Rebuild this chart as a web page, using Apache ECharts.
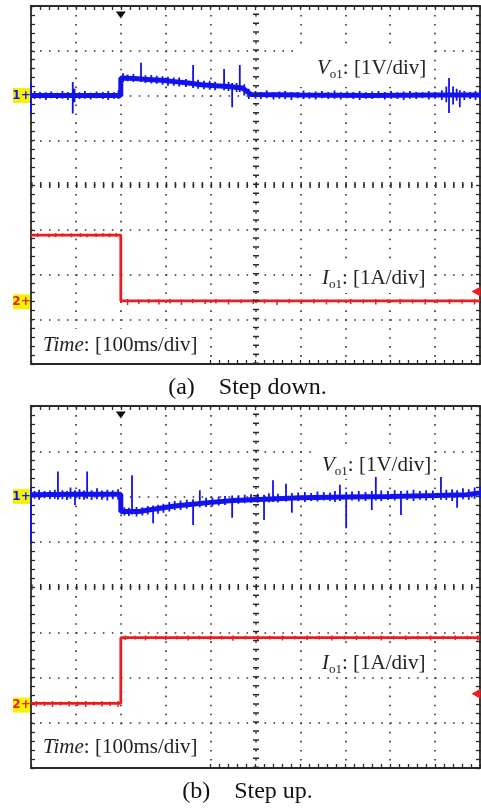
<!DOCTYPE html>
<html><head><meta charset="utf-8">
<script src="https://cdn.jsdelivr.net/npm/echarts@6/dist/echarts.min.js"></script>
<style>html,body{margin:0;padding:0;background:#fff;}#c{width:481px;height:808px;}</style>
</head><body><div id="c"></div>
<script>
// ---------- DATA (time in ms, amplitude in divisions) ----------
const timeMin = 0, timeMax = 1000, timeDiv = 100;      // 100 ms/div, 10 div
const ampMin = -4, ampMax = 4, ampDiv = 1;             // 8 vertical div
const triggerTime = 200;
const ch1Offset = [2.0, 2.0];          // channel-1 ground marker (a),(b)
const ch2Offset = [-2.61, -2.61];      // channel-2 ground marker (a),(b)
const trigLevel = [-2.38, -2.36];      // trigger level arrow (a),(b)

// Panel (a) step down : Vo1 base line
const aVoT = [0, 200, 200, 230, 260, 290, 320, 350, 380, 410, 440, 470, 480, 490, 600, 750, 900, 1000];
const aVoV = [2.0, 2.0, 2.39, 2.38, 2.36, 2.34, 2.31, 2.28, 2.24, 2.22, 2.20, 2.17, 2.10, 2.02, 2.01, 2.0, 2.01, 2.01];
// Vo1 noise spikes [time, low, high]
const aVoSpikes = [
[0,1.61,2.28],[8,1.92,2.10],[20,1.93,2.08],[33,1.90,2.07],[45,1.94,2.09],[58,1.92,2.06],[70,1.93,2.10],[82,1.90,2.08],
[93,1.60,2.30],[97,1.85,2.15],[108,1.92,2.07],[120,1.93,2.10],[133,1.91,2.06],[146,1.94,2.09],[160,1.92,2.08],[172,1.90,2.10],
[185,1.93,2.07],[195,1.92,2.12],[205,2.30,2.50],[215,2.32,2.47],[228,2.30,2.48],[245,2.30,2.73],[255,2.28,2.45],[268,2.27,2.46],
[280,2.26,2.44],[293,2.24,2.43],[305,2.22,2.42],[318,2.22,2.40],[330,2.20,2.40],[345,2.19,2.37],[361,2.17,2.68],[372,2.15,2.35],
[385,2.14,2.33],[398,2.13,2.33],[410,2.12,2.31],[430,2.12,2.59],[440,2.10,2.30],[448,1.74,2.28],[458,2.08,2.28],[465,2.08,2.68],
[475,2.00,2.25],[485,1.92,2.15],[500,1.93,2.10],[512,1.92,2.08],[525,1.94,2.12],[540,1.91,2.07],[553,1.93,2.09],[566,1.92,2.10],
[580,1.90,2.08],[594,1.94,2.08],[607,1.92,2.11],[620,1.93,2.07],[634,1.91,2.09],[648,1.94,2.10],[662,1.92,2.08],[676,1.93,2.11],
[690,1.91,2.07],[704,1.94,2.09],[718,1.92,2.08],[732,1.90,2.10],[746,1.93,2.07],[760,1.92,2.09],[774,1.94,2.10],[788,1.91,2.08],
[802,1.93,2.10],[816,1.92,2.07],[830,1.90,2.09],[844,1.93,2.10],[858,1.92,2.08],[872,1.94,2.07],[886,1.91,2.10],[900,1.93,2.08],
[915,1.90,2.12],[925,1.85,2.20],[931,1.61,2.39],[940,1.80,2.20],[948,1.88,2.15],[955,1.74,2.12],[965,1.90,2.10],[978,1.92,2.08],
[990,1.90,2.10],[1000,1.93,2.12]];
// Io1 base line and noise
const aIoT = [0, 200, 200, 1000];
const aIoV = [-1.12, -1.12, -2.59, -2.59];
const aIoSpikes = [
[15,-1.16,-1.08],[40,-1.17,-1.09],[55,-1.16,-1.07],[70,-1.15,-1.08],[90,-1.17,-1.08],[110,-1.16,-1.07],[125,-1.17,-1.09],
[145,-1.16,-1.08],[160,-1.15,-1.07],[175,-1.17,-1.08],[190,-1.16,-1.07],
[215,-2.68,-2.55],[240,-2.66,-2.56],[262,-2.64,-2.55],[285,-2.67,-2.56],[310,-2.65,-2.55],[335,-2.68,-2.56],[360,-2.64,-2.55],
[388,-2.66,-2.56],[412,-2.65,-2.55],[440,-2.67,-2.56],[468,-2.64,-2.56],[495,-2.66,-2.55],[520,-2.65,-2.56],[548,-2.68,-2.56],
[575,-2.64,-2.55],[602,-2.66,-2.56],[630,-2.65,-2.55],[658,-2.67,-2.56],[685,-2.64,-2.56],[712,-2.66,-2.55],[740,-2.65,-2.56],
[768,-2.67,-2.55],[795,-2.64,-2.56],[822,-2.66,-2.55],[850,-2.65,-2.56],[878,-2.67,-2.55],[905,-2.64,-2.56],[932,-2.66,-2.55],
[960,-2.65,-2.56],[988,-2.67,-2.55]];

// Panel (b) step up : Vo1
const bVoT = [0, 100, 200, 200, 240, 280, 320, 360, 400, 450, 520, 600, 700, 800, 900, 970, 1000];
const bVoV = [2.04, 2.05, 2.05, 1.67, 1.67, 1.73, 1.79, 1.83, 1.87, 1.91, 1.94, 1.97, 1.99, 2.0, 2.02, 2.04, 2.08];
const bVoSpikes = [
[0,1.00,2.19],[8,1.95,2.12],[18,1.93,2.15],[30,1.96,2.12],[42,1.94,2.13],[53,1.95,2.15],[60,1.93,2.55],[70,1.94,2.14],
[80,1.92,2.12],[88,1.95,2.20],[98,1.81,2.14],[108,1.94,2.16],[118,1.93,2.13],[125,1.95,2.55],[135,1.92,2.14],[147,1.94,2.18],
[158,1.93,2.13],[170,1.91,2.15],[182,1.94,2.14],[194,1.93,2.16],[208,1.58,1.76],[218,1.57,1.75],[225,1.60,2.47],[235,1.56,1.77],
[248,1.58,1.76],[260,1.60,1.79],[272,1.41,1.80],[283,1.62,1.82],[295,1.64,1.84],[308,1.67,1.88],[320,1.70,1.90],[333,1.70,1.91],
[347,1.73,1.93],[361,1.37,1.94],[376,1.76,2.14],[390,1.77,1.97],[404,1.78,1.98],[418,1.80,2.00],[432,1.81,2.01],[448,1.53,2.02],
[462,1.84,2.03],[476,1.85,2.04],[490,1.86,2.05],[505,1.86,2.06],[519,1.48,2.04],[530,1.87,2.07],[539,1.88,2.36],[550,1.87,2.06],
[568,1.89,2.28],[581,1.64,2.08],[595,1.90,2.09],[610,1.88,2.10],[624,1.90,2.08],[638,1.89,2.11],[652,1.91,2.10],[666,1.90,2.09],
[677,1.88,2.12],[688,1.90,2.26],[702,1.30,2.10],[715,1.91,2.11],[730,1.89,2.12],[745,1.90,2.10],[759,1.70,2.12],[768,1.91,2.43],
[780,1.90,2.13],[795,1.92,2.12],[810,1.91,2.14],[824,1.59,2.12],[838,1.92,2.13],[852,1.90,2.15],[866,1.93,2.12],[880,1.91,2.14],
[895,1.92,2.13],[913,1.93,2.43],[925,1.92,2.15],[938,1.90,2.16],[949,1.75,2.14],[962,1.94,2.18],[975,1.93,2.16],[988,1.95,2.20],
[1000,1.96,2.22]];
const bIoT = [0, 200, 200, 1000];
const bIoV = [-2.57, -2.57, -1.12, -1.12];
const bIoSpikes = [
[12,-2.64,-2.52],[30,-2.63,-2.53],[48,-2.65,-2.52],[66,-2.62,-2.53],[85,-2.64,-2.52],[104,-2.63,-2.53],[122,-2.65,-2.52],
[140,-2.62,-2.53],[158,-2.64,-2.52],[176,-2.63,-2.53],[194,-2.65,-2.52],
[210,-1.17,-1.07],[232,-1.16,-1.08],[255,-1.18,-1.07],[278,-1.16,-1.08],[300,-1.17,-1.07],[325,-1.16,-1.08],[350,-1.18,-1.07],
[375,-1.16,-1.08],[400,-1.17,-1.07],[425,-1.16,-1.08],[450,-1.19,-1.07],[478,-1.16,-1.08],[505,-1.17,-1.07],[532,-1.16,-1.08],
[560,-1.18,-1.07],[588,-1.16,-1.08],[615,-1.17,-1.07],[642,-1.16,-1.08],[670,-1.18,-1.07],[698,-1.16,-1.08],[725,-1.17,-1.07],
[752,-1.16,-1.08],[780,-1.18,-1.07],[808,-1.16,-1.08],[835,-1.17,-1.07],[862,-1.16,-1.08],[890,-1.18,-1.07],[918,-1.16,-1.08],
[945,-1.17,-1.07],[972,-1.16,-1.08],[995,-1.18,-1.07]];

// Texts
const captions = ['(a)    Step down.', '(b)    Step up.'];
const voltLabel = ['V', 'o1', ': [1V/div]'];
const currLabel = ['I', 'o1', ': [1A/div]'];
const timeLabel = ['Time', ': [100ms/div]'];

// ---------- STYLE / LAYOUT ----------
const BLUE = '#1212f0', RED = '#ee1c1c', FRAME = '#2a2a22', DOT = '#333', TXT = '#222';
const SERIF = "'Liberation Serif','Times New Roman',serif";
const grids = [
  {left: 31, top: 6, width: 449, height: 358},
  {left: 31, top: 406, width: 449, height: 362}
];

function pairs(t, v) { return t.map((x, i) => [x, v[i]]); }
function spikes(arr) { const out = []; arr.forEach(s => { out.push([s[0], s[1]], [s[0], s[2]], [s[0], '-']); }); return out; }

function xAx(gi, pos) {
  const g = grids[gi];
  const per = g.height / ((ampMax - ampMin) * 5);
  return {type: 'value', gridIndex: gi, position: pos, min: timeMin, max: timeMax, interval: timeDiv,
    axisLine: {show: true, onZero: false, lineStyle: {color: FRAME, width: 1.8}},
    axisTick: {show: true, inside: true, length: 4, lineStyle: {color: FRAME, width: 1.3}},
    minorTick: {show: true, splitNumber: 5, length: 4, lineStyle: {color: FRAME, width: 1.3}},
    axisLabel: {show: false},
    splitLine: {show: pos === 'bottom', lineStyle: {color: DOT, width: 1.6, type: [1.6, per - 1.6]}},
    minorSplitLine: {show: false}};
}
function yAx(gi, pos) {
  const g = grids[gi];
  const per = g.width / ((timeMax - timeMin) / timeDiv * 5);
  return {type: 'value', gridIndex: gi, position: pos, min: ampMin, max: ampMax, interval: ampDiv,
    axisLine: {show: true, onZero: false, lineStyle: {color: FRAME, width: 1.8}},
    axisTick: {show: true, inside: true, length: 4, lineStyle: {color: FRAME, width: 1.3}},
    minorTick: {show: true, splitNumber: 5, length: 4, lineStyle: {color: FRAME, width: 1.3}},
    axisLabel: {show: false},
    splitLine: {show: pos === 'left', lineStyle: {color: DOT, width: 1.6, type: [1.6, per - 1.6]}},
    minorSplitLine: {show: false}};
}

function panelSeries(p, voT, voV, voSp, ioT, ioV, ioSp) {
  const g = grids[p];
  const perV = g.height / 40, perH = g.width / 50;
  const xi = p * 2, yi = p * 2;
  return [
    {type: 'line', xAxisIndex: xi, yAxisIndex: yi, data: [], symbol: 'none', silent: true, z: 1,
      markLine: {silent: true, symbol: ['none', 'none'], label: {show: false}, animation: false,
        data: [
          {yAxis: 0, lineStyle: {color: FRAME, width: 6, type: [1.5, perH - 1.5]}},
          {xAxis: (timeMin + timeMax) / 2, lineStyle: {color: FRAME, width: 6, type: [1.5, perV - 1.5]}}
        ]}},
    {type: 'line', xAxisIndex: xi, yAxisIndex: yi, data: pairs(voT, voV), symbol: 'none', silent: true, z: 3,
      lineStyle: {color: BLUE, width: 5},
      markPoint: {silent: true, animation: false, data: [
        {coord: [timeMin, ch1Offset[p]], symbol: 'rect', symbolSize: [17, 15], symbolOffset: [-9.5, 0],
          itemStyle: {color: '#f4f400'},
          label: {show: true, position: 'inside', formatter: '1+', color: BLUE, fontSize: 12, fontWeight: 'bold', fontFamily: 'DejaVu Sans'}},
        {coord: [triggerTime, ampMax], symbol: 'triangle', symbolRotate: 180, symbolSize: [10, 7], symbolOffset: [0, 9],
          itemStyle: {color: '#111'}, label: {show: false}}
      ]}},
    {type: 'line', xAxisIndex: xi, yAxisIndex: yi, data: spikes(voSp), symbol: 'none', silent: true, z: 3,
      connectNulls: false, lineStyle: {color: BLUE, width: 1.8}},
    {type: 'line', xAxisIndex: xi, yAxisIndex: yi, data: pairs(ioT, ioV), symbol: 'none', silent: true, z: 3,
      lineStyle: {color: RED, width: 2.8},
      markPoint: {silent: true, animation: false, data: [
        {coord: [timeMin, ch2Offset[p]], symbol: 'rect', symbolSize: [17, 15], symbolOffset: [-9.5, 0],
          itemStyle: {color: '#f4f400'},
          label: {show: true, position: 'inside', formatter: '2+', color: RED, fontSize: 12, fontWeight: 'bold', fontFamily: 'DejaVu Sans'}},
        {coord: [timeMax, trigLevel[p]], symbol: 'triangle', symbolRotate: 90, symbolSize: [10, 9], symbolOffset: [-4, 0],
          itemStyle: {color: RED}, label: {show: false}}
      ]}},
    {type: 'line', xAxisIndex: xi, yAxisIndex: yi, data: spikes(ioSp), symbol: 'none', silent: true, z: 3,
      connectNulls: false, lineStyle: {color: RED, width: 1.5}}
  ];
}

const richBase = {
  it: {fontFamily: SERIF, fontStyle: 'italic', fontSize: 21, fill: TXT, lineHeight: 26, verticalAlign: 'middle'},
  sub: {fontFamily: SERIF, fontSize: 13, fill: TXT, lineHeight: 14, verticalAlign: 'bottom'},
  n: {fontFamily: SERIF, fontSize: 21, fill: TXT, lineHeight: 26, verticalAlign: 'middle'}
};
function box(x, y, w, h) { return {type: 'rect', shape: {x: x, y: y, width: w, height: h}, style: {fill: '#fff'}, z: 1, silent: true}; }
function subLabel(x, y, parts) {
  return {type: 'text', x: x, y: y, z: 20, silent: true,
    style: {text: '{it|' + parts[0] + '}{sub|' + parts[1] + '}{n|' + parts[2] + '}', rich: richBase, align: 'left', verticalAlign: 'middle'}};
}
function timeLbl(x, y) {
  return {type: 'text', x: x, y: y, z: 20, silent: true,
    style: {text: '{it|' + timeLabel[0] + '}{n|' + timeLabel[1] + '}', rich: richBase, align: 'left', verticalAlign: 'middle'}};
}
function caption(x, y, s) {
  return {type: 'text', x: x, y: y, z: 20, silent: true,
    style: {text: s, fontFamily: SERIF, fontSize: 24, fill: '#111', align: 'center', verticalAlign: 'middle'}};
}

const option = {
  animation: false,
  backgroundColor: '#fff',
  grid: grids,
  xAxis: [xAx(0, 'bottom'), xAx(0, 'top'), xAx(1, 'bottom'), xAx(1, 'top')],
  yAxis: [yAx(0, 'left'), yAx(0, 'right'), yAx(1, 'left'), yAx(1, 'right')],
  series: [].concat(
    panelSeries(0, aVoT, aVoV, aVoSpikes, aIoT, aIoV, aIoSpikes),
    panelSeries(1, bVoT, bVoV, bVoSpikes, bIoT, bIoV, bIoSpikes)
  ),
  graphic: [
    box(299, 47, 133, 40), box(316, 263, 116, 30), box(38, 329, 168, 34),
    box(314, 447, 118, 32), box(316, 648, 116, 28), box(38, 731, 168, 36),
    subLabel(317, 68, voltLabel), subLabel(322, 278, currLabel), timeLbl(43, 345),
    subLabel(322, 465, voltLabel), subLabel(322, 663, currLabel), timeLbl(43, 747),
    caption(247.5, 388, captions[0]), caption(247.5, 792, captions[1])
  ]
};
const chart = echarts.init(document.getElementById('c'), null, {renderer: 'canvas', width: 481, height: 808});
chart.setOption(option);
</script></body></html>
